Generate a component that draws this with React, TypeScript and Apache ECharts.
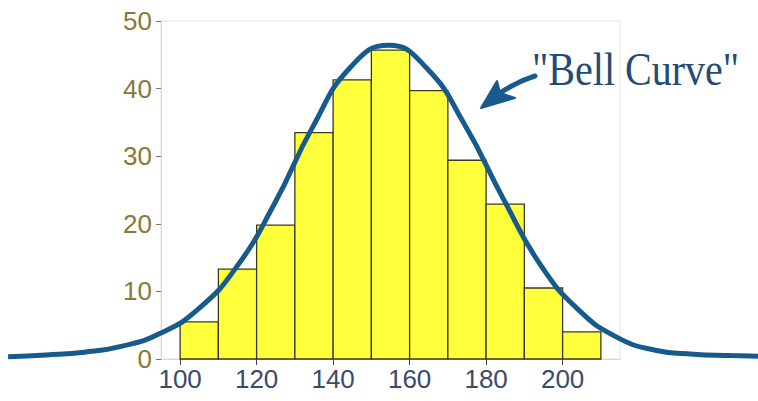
import React, { useEffect, useRef } from "react";
import * as echarts from "echarts";

const binStarts = [100, 110, 120, 130, 140, 150, 160, 170, 180, 190, 200];
const binWidth = 10;
const counts = [5.5, 13.3, 19.8, 33.5, 41.3, 45.7, 39.7, 29.4, 22.9, 10.5, 4.0];

const curveX = [55, 65, 75, 85, 95, 105, 115, 125, 135, 145, 155, 165, 175, 185, 195, 205, 215, 225, 235, 245, 252];
const curveY = [0.35, 0.6, 1.0, 1.9, 3.8, 7.4, 13.6, 23.0, 34.3, 43.2, 46.4, 43.0, 34.6, 23.8, 13.8, 7.2, 3.2, 1.3, 0.7, 0.5, 0.4];

const xTickValues = [100, 120, 140, 160, 180, 200];
const annotationText = '"Bell Curve"';

export default function App() {
  const ref = useRef<HTMLDivElement>(null);
  useEffect(() => {
    if (!ref.current) return;
    const chart = echarts.init(ref.current, null, { renderer: "svg" });
    const blue = "#175b8c";
    chart.setOption({
      animation: false,
      backgroundColor: "#ffffff",
      grid: [
        { left: 161, top: 21, width: 459, height: 338, show: true, borderColor: "#e2e2e2", borderWidth: 1, containLabel: false },
        { left: 10, top: 21, width: 751.5, height: 338, show: false, containLabel: false },
      ],
      xAxis: [
        {
          type: "value", gridIndex: 0, min: 95, max: 215,
          axisLine: { show: true, lineStyle: { color: "#d6d6d6", width: 1 } },
          axisTick: { show: true, customValues: xTickValues, length: 6, lineStyle: { color: "#444444", width: 1 } },
          axisLabel: { customValues: xTickValues, color: "#3b4a6c", fontSize: 26, fontFamily: "Liberation Sans, Arial, sans-serif", margin: 7 },
          splitLine: { show: false },
        },
        { type: "value", gridIndex: 1, min: 55.5, max: 252, show: false, splitLine: { show: false } },
      ],
      yAxis: [
        {
          type: "value", gridIndex: 0, min: 0, max: 50, interval: 10,
          axisLine: { show: true, lineStyle: { color: "#d6d6d6", width: 1 } },
          axisTick: { show: true, length: 5, lineStyle: { color: "#777777", width: 1 } },
          axisLabel: { color: "#8a7838", fontSize: 26, fontFamily: "Liberation Sans, Arial, sans-serif", margin: 9 },
          splitLine: { show: false },
        },
        { type: "value", gridIndex: 1, min: 0, max: 50, show: false, splitLine: { show: false } },
      ],
      series: [
        {
          type: "custom",
          xAxisIndex: 0, yAxisIndex: 0,
          data: binStarts.map((s, i) => [s, s + binWidth, counts[i]]),
          encode: { x: [0, 1], y: 2 },
          renderItem: (params: any, api: any) => {
            const p0 = api.coord([api.value(0), api.value(2)]);
            const p1 = api.coord([api.value(1), 0]);
            return {
              type: "rect",
              shape: { x: p0[0], y: p0[1], width: p1[0] - p0[0], height: p1[1] - p0[1] },
              style: { fill: "#ffff3c", stroke: "#3b3a1c", lineWidth: 1.3 },
            };
          },
          z: 2,
        },
        {
          type: "line",
          xAxisIndex: 1, yAxisIndex: 1,
          data: curveX.map((x, i) => [x, curveY[i]]),
          smooth: 0.5,
          showSymbol: false,
          symbol: "none",
          lineStyle: { color: blue, width: 5 },
          z: 5,
        },
      ],
      graphic: [
        {
          type: "bezierCurve",
          shape: { x1: 497, y1: 95, cpx1: 510, cpy1: 86, cpx2: 522, cpy2: 80, x2: 535, y2: 76 },
          style: { stroke: blue, lineWidth: 5, lineCap: "round", fill: null },
          z: 10,
        },
        {
          type: "polygon",
          shape: { points: [[481, 108], [497, 81], [500, 93], [515, 98]] },
          style: { fill: blue, stroke: blue, lineWidth: 2, lineJoin: "round" },
          z: 10,
        },
        {
          type: "text",
          x: 532, y: 93,
          scaleX: 0.87,
          style: {
            text: annotationText,
            fill: "#234b73",
            font: "46px 'Liberation Serif', 'DejaVu Serif', serif",
            textVerticalAlign: "bottom",
            verticalAlign: "bottom",
          },
          z: 10,
        },
      ],
    });
    return () => chart.dispose();
  }, []);
  return <div ref={ref} style={{ position: "fixed", left: 0, top: 0, width: 758, height: 401 }} />;
}
